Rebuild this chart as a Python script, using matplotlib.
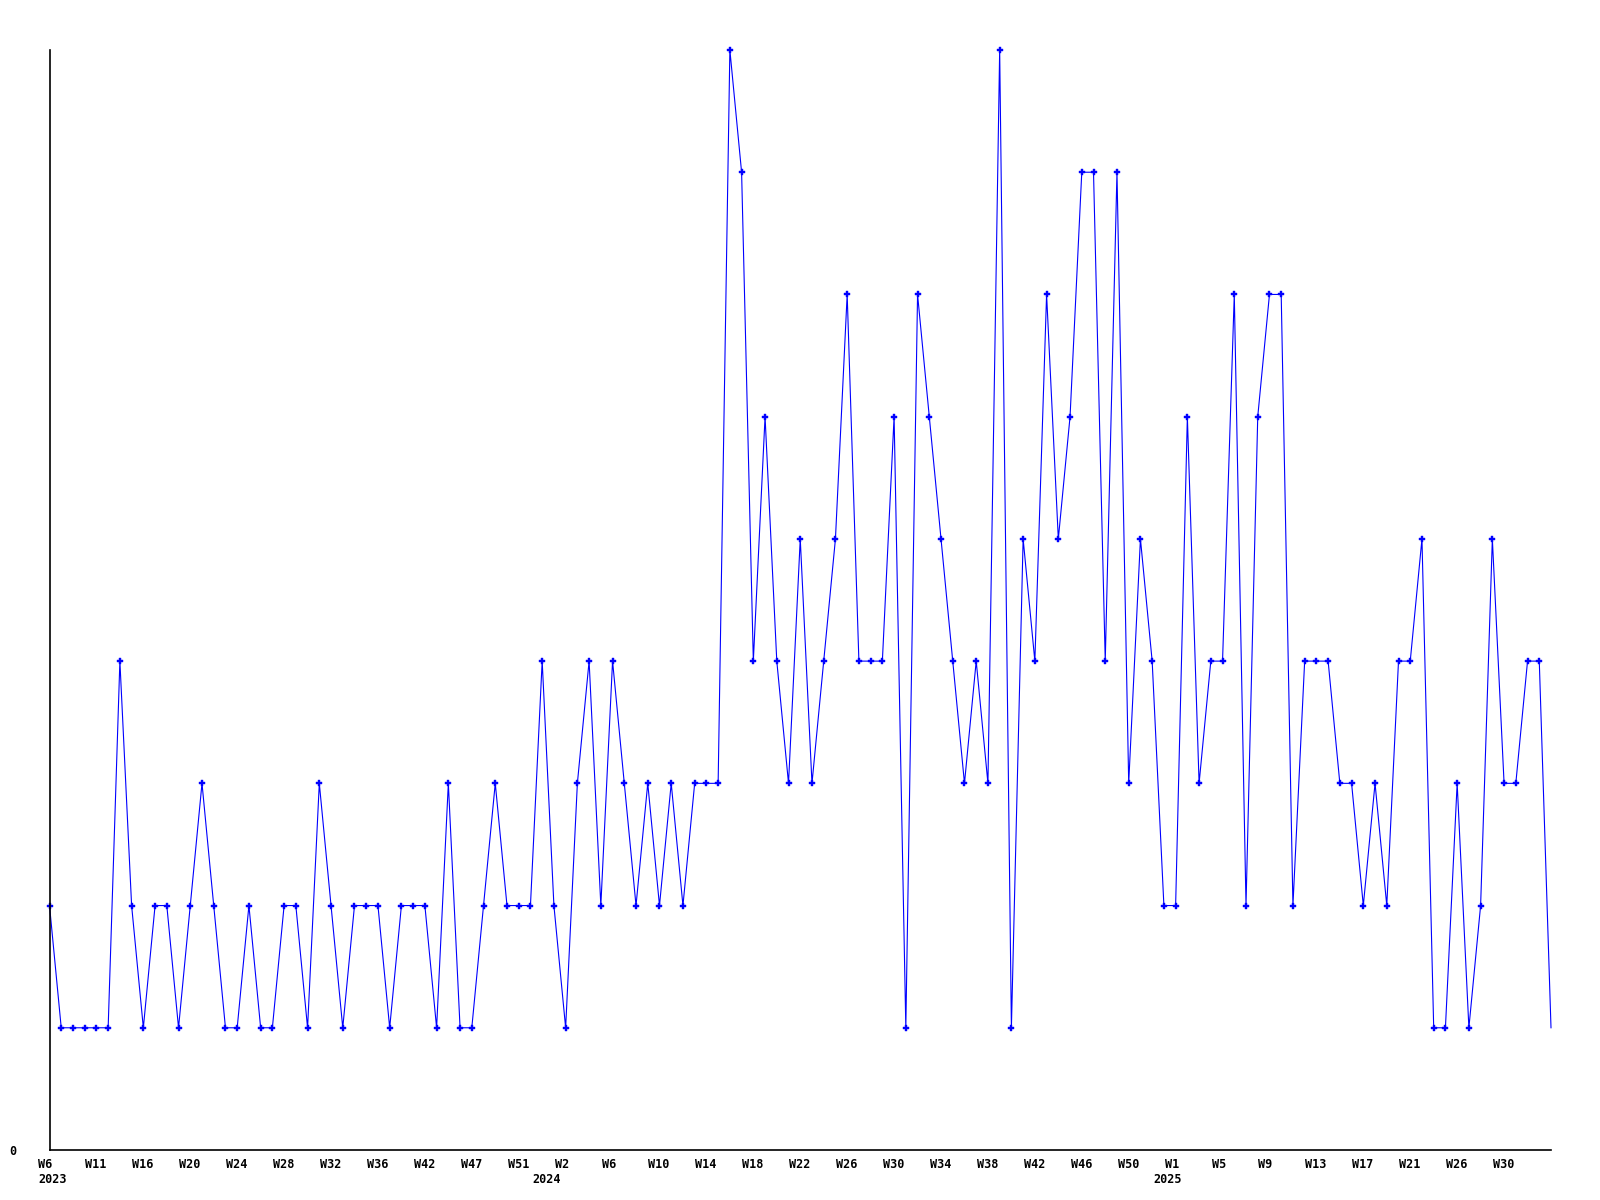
import matplotlib
matplotlib.use("Agg")
import matplotlib.pyplot as plt

# weekly counts, one point per week present in the data
weeks = ["W6", "W7", "W8", "W9", "W11", "W12", "W13", "W14", "W16", "W17",
         "W18", "W19", "W20", "W21", "W22", "W23", "W24", "W25", "W26", "W27",
         "W28", "W29", "W30", "W31", "W32", "W33", "W34", "W35", "W36", "W37",
         "W39", "W40", "W42", "W43", "W44", "W45", "W47", "W48", "W49", "W50",
         "W51", "W52", "W53", "W1", "W2", "W3", "W4", "W5", "W6", "W7",
         "W8", "W9", "W10", "W11", "W12", "W13", "W14", "W15", "W16", "W17",
         "W18", "W19", "W20", "W21", "W22", "W23", "W24", "W25", "W26", "W27",
         "W28", "W29", "W30", "W31", "W32", "W33", "W34", "W35", "W36", "W37",
         "W38", "W39", "W40", "W41", "W42", "W43", "W44", "W45", "W46", "W47",
         "W48", "W49", "W50", "W51", "W52", "W53", "W1", "W2", "W3", "W4",
         "W5", "W6", "W7", "W8", "W9", "W10", "W11", "W12", "W13", "W14",
         "W15", "W16", "W17", "W18", "W19", "W20", "W21", "W22", "W23", "W24",
         "W26", "W27", "W28", "W29", "W30", "W31", "W32", "W33", "W34"]
years = [2023] * 43 + [2024] * 53 + [2025] * 33

counts = [2, 1, 1, 1, 1, 1, 4, 2, 1, 2,
          2, 1, 2, 3, 2, 1, 1, 2, 1, 1,
          2, 2, 1, 3, 2, 1, 2, 2, 2, 1,
          2, 2, 2, 1, 3, 1, 1, 2, 3, 2,
          2, 2, 4, 2, 1, 3, 4, 2, 4, 3,
          2, 3, 2, 3, 2, 3, 3, 3, 9, 8,
          4, 6, 4, 3, 5, 3, 4, 5, 7, 4,
          4, 4, 6, 1, 7, 6, 5, 4, 3, 4,
          3, 9, 1, 5, 4, 7, 5, 6, 8, 8,
          4, 8, 3, 5, 4, 2, 2, 6, 3, 4,
          4, 7, 2, 6, 7, 7, 2, 4, 4, 4,
          3, 3, 2, 3, 2, 4, 4, 5, 1, 1,
          3, 1, 2, 5, 3, 3, 4, 4, 1]

label_step = 4

x = list(range(len(counts)))

fig = plt.figure(figsize=(16, 12), dpi=100)
ax = fig.add_axes([49.5 / 1600, 50 / 1200, 1501.5 / 1600, 1100 / 1200])

ax.plot(x, counts, color="#0000ff", linewidth=0.8, marker="P",
        markersize=5, markeredgewidth=0.3, markeredgecolor="#0000ff",
        markevery=slice(0, len(x) - 1), clip_on=False)

ax.set_xlim(0, len(x) - 1)
ax.set_ylim(0, max(counts))

for s in ["top", "right"]:
    ax.spines[s].set_visible(False)
for s in ["left", "bottom"]:
    ax.spines[s].set_linewidth(1.2)

font = dict(family="DejaVu Sans Mono", weight="bold", size=8.5)

ax.set_xticks([])
ax.set_yticks([0])
ax.set_yticklabels(["0"], fontdict=font)
ax.tick_params(axis="y", length=0, pad=24)

# week labels, left aligned a bit before their point
for i in range(0, len(x) - 1, label_step):
    ax.annotate(weeks[i], xy=(i, 0), xycoords=("data", "axes fraction"),
                xytext=(-11, -8), textcoords="offset pixels",
                ha="left", va="top", **font)

# year labels at the first point of each year
for i, yr in enumerate(years):
    if i == 0 or years[i - 1] != yr:
        off = -11 if i == 0 else -22
        ax.annotate(str(yr), xy=(i, 0), xycoords=("data", "axes fraction"),
                    xytext=(off, -23), textcoords="offset pixels",
                    ha="left", va="top", **font)

fig.savefig("out.png", dpi=100)
